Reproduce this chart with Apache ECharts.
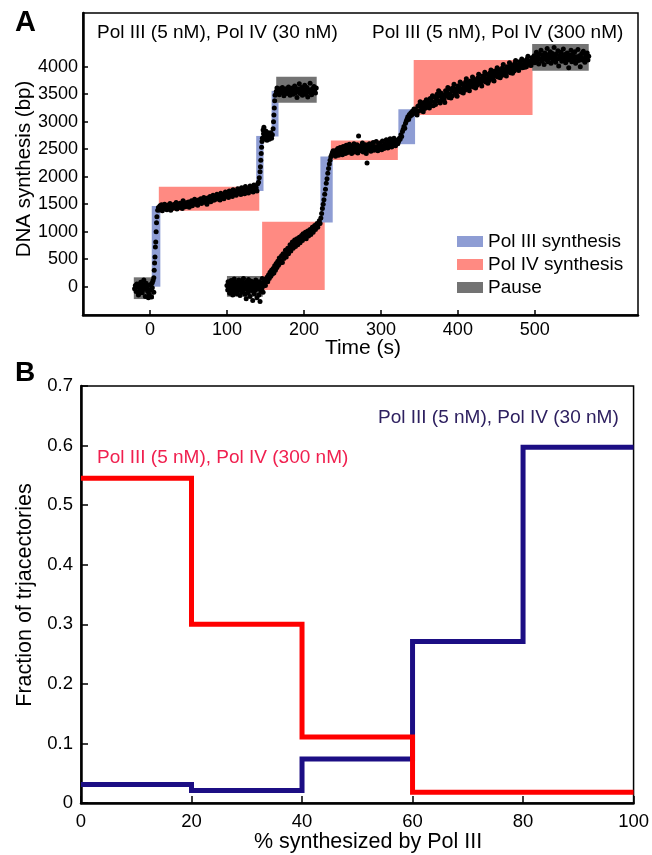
<!DOCTYPE html>
<html><head><meta charset="utf-8">
<script src="https://cdn.jsdelivr.net/npm/echarts@6/dist/echarts.min.js"></script>
<style>html,body{margin:0;padding:0;background:#fff}#c{width:652px;height:855px}</style>
</head><body><div id="c"></div>
<script>
// ---------- Panel A data ----------
const xTicksA = [0, 100, 200, 300, 400, 500];
const yTicksA = [0, 500, 1000, 1500, 2000, 2500, 3000, 3500, 4000];
// rectangles: [tStart, tEnd, bpLow, bpHigh]
const pol4Rects = [[11.5,142,1380,1818],[145.7,227,-60,1182],[235,322,2304,2655],[342.6,497,3122,4120]];
const pol3Rects = [[2.3,13.5,0,1467],[138,147.5,1740,2740],[158,167,2730,3560],[221.4,237.4,1165,2365],[322.7,344.4,2590,3225]];
const pauseRects = [[-21,5,-225,170],[164,216.6,3345,3818],[100,146.5,-182,195],[496.5,570,3927,4413]];

// trajectory: Pol III (5 nM), Pol IV (30 nM)
const traj30 = [
[-20,-40],[-19,20],[-18,-90],[-17,50],[-16,-10],[-15,-150],[-14,30],[-13,-60],[-12,80],[-11,-20],[-10,-110],[-9,40],[-8,-50],[-7,10],[-6,-180],[-5,60],[-4,-30],[-3,-90],[-2,20],[-1,-140],[0,-60],[1,40],[2,-190],[3,-20],[4,110],[5,-100],[-14,-120],[-8,120],[-2,-200],[3,70],
[5,160],[5.5,300],[6,430],[6.5,540],[7,720],[7.5,810],[8,1000],[8.5,1160],[9,1270],[10,1390],
[11,1440],[12,1395],[13,1470],[14,1420],[15,1490],[16,1380],[17,1455],[18,1410],[19,1500],[20,1445],[22,1400],[23,1480],[24,1435],[26,1510],[27,1390],[28,1460],[30,1425],[31,1495],[32,1450],[34,1530],[35,1410],[36,1470],[38,1440],[39,1515],[40,1475],[42,1420],[43,1560],[44,1490],[46,1455],[47,1525],[48,1480],[50,1540],[51,1445],[52,1505],[54,1560],[55,1470],[56,1520],[58,1590],[59,1500],[60,1545],[62,1480],[63,1575],[64,1530],[66,1600],[67,1510],[68,1560],[70,1620],[71,1535],[72,1580],[74,1500],[75,1610],[76,1565],[78,1640],[79,1545],[80,1600],[82,1660],[83,1570],[84,1625],[86,1590],[87,1680],[88,1610],[90,1650],[91,1575],[92,1700],[94,1630],[95,1670],[96,1600],[98,1720],[99,1645],[100,1690],[102,1620],[103,1740],[104,1665],[106,1710],[107,1640],[108,1760],[110,1690],[111,1730],[112,1660],[114,1780],[115,1700],[116,1745],[118,1675],[119,1800],[120,1720],[122,1760],[123,1690],[124,1820],[126,1740],[127,1775],[128,1705],[130,1830],[131,1750],[132,1790],[134,1720],[135,1850],[136,1765],[138,1800],[139,1740],[140,1870],
[141,1900],[142,1980],[143,2090],[143.5,2180],[144,2300],[144.5,2420],[145,2535],[145.5,2640],
[146,2700],[147,2850],[147.5,2780],[148,2900],[148.5,2720],[149,2800],[149.5,2760],[150,2680],[150.5,2830],[151,2740],[151.5,2790],[152,2660],[152.5,2760],[153,2710],[153.5,2800],[154,2740],[155,2680],[155.5,2770],[156,2720],[157,2800],[158,2700],[159,2760],
[160,2870],[160.5,3000],[161,3120],[161.5,3250],[162,3380],[162.5,3480],
[164,3550],[165,3610],[166,3520],[167,3580],[168,3490],[169,3600],[170,3560],[171,3530],[172,3620],[173,3570],[174,3470],[175,3590],[176,3540],[177,3600],[178,3510],[179,3570],[180,3630],[181,3550],[182,3480],[183,3590],[184,3540],[185,3610],[186,3500],[187,3560],[188,3650],[189,3520],[190,3580],[191,3440],[192,3600],[193,3550],[194,3690],[195,3510],[196,3570],[197,3620],[198,3480],[199,3590],[200,3540],[201,3660],[202,3500],[203,3560],[204,3620],[205,3450],[206,3580],[207,3530],[208,3700],[209,3560],[210,3490],[211,3600],[212,3540],[213,3640],[214,3580],[215,3520],[216,3610]
];
// trajectory: Pol III (5 nM), Pol IV (300 nM)
const traj300 = [
[100,20],[101,-60],[101.5,90],[102,-10],[103,50],[103.5,-120],[104,30],[105,-40],[105.5,110],[106,-80],[107,10],[107.5,-150],[108,70],[109,-20],[109.5,140],[110,-90],[111,40],[111.5,-30],[112,80],[113,-130],[113.5,0],[114,60],[115,-70],[115.5,120],[116,-10],[117,-160],[117.5,50],[118,-40],[119,100],[119.5,-100],[120,20],[121,-60],[121.5,150],[122,-20],[123,70],[123.5,-140],[124,10],[125,-220],[125.5,90],[126,-50],[127,30],[127.5,-110],[128,130],[129,-30],[129.5,60],[130,-180],[131,0],[131.5,100],[132,-70],[133,40],[133.5,-250],[134,80],[135,-20],[135.5,-130],[136,50],[137,-60],[137.5,120],[138,-10],[139,-200],[139.5,70],[140,-40],[141,30],[141.5,-150],[142,90],[143,-270],[143.5,10],[144,-80],[145,60],[145.5,-30],[146,150],[147,-100],[148,20],
[148,60],[149,130],[150,20],[151,110],[152,170],[153,90],[154,210],[155,150],[156,260],[157,190],[158,300],[159,230],[160,330],[161,250],[162,380],[163,300],[164,420],[165,350],[166,460],[167,390],[168,520],[169,430],[170,470],[171,560],[172,440],[173,600],[174,510],[175,580],[176,660],[177,540],[178,630],[179,700],[180,600],[181,690],[182,760],[183,650],[184,740],[185,810],[186,700],[187,770],[188,850],[189,730],[190,800],[191,870],[192,760],[193,840],[194,900],[195,800],[196,870],[197,930],[198,840],[199,960],[200,880],[201,920],[202,990],[203,870],[204,950],[205,1010],[206,920],[207,980],[208,1040],[209,950],[210,1020],[211,1080],[212,990],[213,1060],[214,1110],[215,1040],[216,1100],[217,1150],[218,1080],[219,1140],[220,1200],[221,1150],
[222,1250],[223,1330],[224,1420],[225,1500],[226,1580],[227,1680],[228,1770],[229,1880],[230,1960],[231,2060],[232,2150],[233,2230],[234,2300],[235,2360],[236,2400],[237,2440],[238,2470],
[239,2400],[240,2450],[241,2370],[242,2480],[243,2420],[244,2510],[245,2390],[246,2460],[247,2530],[248,2430],[249,2490],[250,2400],[251,2550],[252,2460],[253,2510],[254,2420],[255,2570],[256,2480],[257,2440],[258,2530],[259,2590],[260,2460],[261,2510],[262,2420],[263,2560],[264,2480],[265,2600],[266,2450],[267,2530],[268,2490],[269,2580],[270,2430],[271,2740],[272,2520],[273,2470],[274,2560],[275,2500],[276,2610],[277,2450],[278,2540],[279,2490],[280,2580],[281,2420],[282,2250],[283,2530],[284,2480],[285,2600],[286,2510],[287,2460],[288,2570],[289,2520],[290,2620],[291,2480],[292,2550],[293,2500],[294,2640],[295,2530],[296,2470],[297,2580],[298,2520],[299,2610],[300,2550],[301,2490],[302,2650],[303,2560],[304,2510],[305,2600],[306,2540],[307,2670],[308,2570],[309,2520],[310,2620],[311,2560],[312,2690],[313,2590],[314,2540],[315,2640],[316,2580],[317,2700],[318,2610],[319,2560],[320,2660],[321,2620],[322,2600],
[323,2640],[324,2700],[325,2680],[326,2760],[327,2730],[328,2820],[329,2860],[330,2910],[331,2880],[332,2970],[333,3010],[334,3050],[335,3090],[336,3040],[337,3130],[338,3100],[339,3160],[340,3120],[341,3190],[342,3150],[343,3230],[344,3180],
[345,3220],[346,3150],[347,3120],[348,3280],[349,3190],[350,3300],[351,3360],[352,3210],[353,3330],[354,3260],[355,3180],[356,3350],[357,3240],[358,3310],[359,3400],[360,3380],[361,3260],[362,3340],[363,3250],[364,3420],[365,3300],[366,3370],[367,3470],[368,3290],[369,3450],[370,3360],[371,3310],[372,3420],[373,3500],[374,3380],[375,3560],[376,3460],[377,3340],[378,3520],[379,3390],[380,3430],[381,3490],[382,3400],[383,3350],[384,3560],[385,3470],[386,3530],[387,3620],[388,3440],[389,3600],[390,3500],[391,3430],[392,3560],[393,3470],[394,3620],[395,3680],[396,3540],[397,3590],[398,3510],[399,3460],[400,3650],[401,3560],[402,3620],[403,3720],[404,3540],[405,3690],[406,3600],[407,3520],[408,3650],[409,3570],[410,3720],[411,3780],[412,3620],[413,3680],[414,3600],[415,3560],[416,3740],[417,3650],[418,3710],[419,3810],[420,3630],[421,3770],[422,3680],[423,3610],[424,3740],[425,3660],[426,3800],[427,3860],[428,3720],[429,3770],[430,3690],[431,3650],[432,3830],[433,3750],[434,3800],[435,3900],[436,3720],[437,3860],[438,3780],[439,3700],[440,3830],[441,3750],[442,3890],[443,3940],[444,3810],[445,3860],[446,3780],[447,3740],[448,3920],[449,3840],[450,3890],[451,3980],[452,3810],[453,3950],[454,3870],[455,3800],[456,3910],[457,3840],[458,3980],[459,4040],[460,3900],[461,3940],[462,3860],[463,3830],[464,4000],[465,3920],[466,3970],[467,4070],[468,3890],[469,4030],[470,3950],[471,3880],[472,4000],[473,3920],[474,4060],[475,4110],[476,3980],[477,4030],[478,3950],[479,3930],[480,4090],[481,4000],[482,4050],[483,4140],[484,3980],[485,4110],[486,4030],[487,3990],[488,4070],[489,4000],[490,4140],[491,4190],[492,4060],[493,4100],[494,4030],[495,4020],[496,4160],[497,4080],
[498,4120],[499,4200],[500,4070],[501,4180],[502,4260],[503,4110],[504,4190],[505,4050],[506,4230],[507,4140],[508,4300],[509,4100],[510,4210],[511,4160],[512,4040],[513,4250],[514,4130],[515,4190],[516,4330],[517,4090],[518,4220],[519,4150],[520,4270],[521,4060],[522,4180],[523,4240],[524,4120],[525,4350],[526,4170],[527,4080],[528,4230],[529,4140],[530,4290],[531,4010],[532,4200],[533,4150],[534,4260],[535,4100],[536,4190],[537,4320],[538,4130],[539,4220],[540,4070],[541,4180],[542,4250],[543,4120],[544,3980],[545,4210],[546,4160],[547,4300],[548,4090],[549,4190],[550,4240],[551,4130],[552,4270],[553,4060],[554,4180],[555,4150],[556,4310],[557,4110],[558,4200],[559,4000],[560,4170],[561,4240],[562,4120],[563,4280],[564,4150],[565,4080],[566,4210],[567,4160],[568,4250],[569,4120],[570,4190]
];

// ---------- Panel B data ----------
const binEdges = [0, 20, 40, 60, 80, 100];
const frac300 = [0.545, 0.300, 0.111, 0.018, 0.018];
const frac30  = [0.031, 0.021, 0.074, 0.271, 0.597];

// ---------- build ----------
const FF = "'Liberation Sans', Arial, Helvetica, sans-serif";
function stepData(vals){
  const d = vals.map((v,i)=>[binEdges[i], v]);
  d.push([binEdges[binEdges.length-1], vals[vals.length-1]]);
  return d;
}
function rectRender(params, api){
  const p0 = api.coord([api.value(0), api.value(3)]);
  const p1 = api.coord([api.value(1), api.value(2)]);
  return {type:'rect', shape:{x:p0[0], y:p0[1], width:p1[0]-p0[0], height:p1[1]-p0[1]}, style:{fill: api.visual('color')}};
}
const plain = v => String(v);
const chart = echarts.init(document.getElementById('c'), null, {renderer:'canvas'});
const axLine = {show:true, onZero:false, lineStyle:{color:'#000', width:2.5}};
chart.setOption({
  animation:false,
  backgroundColor:'#fff',
  textStyle:{fontFamily:FF},
  grid:[
    {left:83, top:13, width:555, height:302, show:true, borderColor:'#000', borderWidth:1.5},
    {left:81, top:386, width:556, height:417, show:true, borderColor:'#000', borderWidth:1.5}
  ],
  legend:{
    data:['Pol III synthesis','Pol IV synthesis','Pause'],
    orient:'vertical', left:457, top:232, padding:0, itemWidth:26, itemHeight:11, itemGap:4,
    icon:'rect', textStyle:{fontFamily:FF, fontSize:19, color:'#000'}, selectedMode:false
  },
  xAxis:[
    {gridIndex:0, type:'value', min:-87, max:634, axisLine:axLine, splitLine:{show:false},
      axisTick:{show:true, inside:true, length:5, customValues:xTicksA, lineStyle:{color:'#000', width:1.5}},
      axisLabel:{customValues:xTicksA, formatter:plain, fontSize:18, color:'#000', margin:6, fontFamily:FF}},
    {gridIndex:1, type:'value', min:0, max:100, interval:20, axisLine:axLine, splitLine:{show:false},
      axisTick:{show:true, inside:true, length:7, lineStyle:{color:'#000', width:1.5}},
      axisLabel:{fontSize:18.5, color:'#000', margin:9, fontFamily:FF}}
  ],
  yAxis:[
    {gridIndex:0, type:'value', min:-515, max:4975, axisLine:axLine, splitLine:{show:false},
      axisTick:{show:true, inside:true, length:5, customValues:yTicksA, lineStyle:{color:'#000', width:1.5}},
      axisLabel:{customValues:yTicksA, formatter:plain, fontSize:18, color:'#000', margin:5, fontFamily:FF}},
    {gridIndex:1, type:'value', min:0, max:0.7, interval:0.1, axisLine:axLine, splitLine:{show:false},
      axisTick:{show:true, inside:true, length:7, lineStyle:{color:'#000', width:1.5}},
      axisLabel:{fontSize:18.5, color:'#000', margin:8, fontFamily:FF}}
  ],
  series:[
    {name:'Pol IV synthesis', type:'custom', xAxisIndex:0, yAxisIndex:0, renderItem:rectRender, encode:{x:[0,1], y:[2,3]}, itemStyle:{color:'#ff8a82'}, data:pol4Rects, z:1},
    {name:'Pol III synthesis', type:'custom', xAxisIndex:0, yAxisIndex:0, renderItem:rectRender, encode:{x:[0,1], y:[2,3]}, itemStyle:{color:'#8e9dd4'}, data:pol3Rects, z:2},
    {name:'Pause', type:'custom', xAxisIndex:0, yAxisIndex:0, renderItem:rectRender, encode:{x:[0,1], y:[2,3]}, itemStyle:{color:'#737373'}, data:pauseRects, z:2},
    {name:'traj30', type:'scatter', xAxisIndex:0, yAxisIndex:0, symbolSize:5, itemStyle:{color:'#000', opacity:1}, data:traj30, z:5},
    {name:'traj300', type:'scatter', xAxisIndex:0, yAxisIndex:0, symbolSize:5, itemStyle:{color:'#000', opacity:1}, data:traj300, z:5},
    {name:'30 nM', type:'line', xAxisIndex:1, yAxisIndex:1, step:'end', showSymbol:false, lineStyle:{color:'#1c0e84', width:5, join:'miter'}, data:stepData(frac30), z:3},
    {name:'300 nM', type:'line', xAxisIndex:1, yAxisIndex:1, step:'end', showSymbol:false, lineStyle:{color:'#ff0000', width:5, join:'miter'}, data:stepData(frac300), z:4}
  ],
  graphic:[
    {type:'text', left:15, top:8, style:{text:'A', font:"bold 29px "+FF, fill:'#000'}},
    {type:'text', left:15, top:359, style:{text:'B', font:"bold 28px "+FF, fill:'#000'}},
    {type:'text', x:97, y:33, style:{text:'Pol III (5 nM), Pol IV (30 nM)', font:"19px "+FF, fill:'#000', textVerticalAlign:'middle'}},
    {type:'text', x:372, y:33, style:{text:'Pol III (5 nM), Pol IV (300 nM)', font:"19px "+FF, fill:'#000', textVerticalAlign:'middle'}},
    {type:'text', x:363, y:348, style:{text:'Time (s)', font:"21px "+FF, fill:'#000', textAlign:'center', textVerticalAlign:'middle'}},
    {type:'text', x:24, y:169, rotation:Math.PI/2, style:{text:'DNA synthesis (bp)', font:"20.5px "+FF, fill:'#000', textAlign:'center', textVerticalAlign:'middle'}},
    {type:'text', x:97, y:458, style:{text:'Pol III (5 nM), Pol IV (300 nM)', font:"19px "+FF, fill:'#f0204f', textVerticalAlign:'middle'}},
    {type:'text', x:378, y:418, style:{text:'Pol III (5 nM), Pol IV (30 nM)', font:"19px "+FF, fill:'#2e2060', textVerticalAlign:'middle'}},
    {type:'text', x:368, y:842, style:{text:'% synthesized by Pol III', font:"21.5px "+FF, fill:'#000', textAlign:'center', textVerticalAlign:'middle'}},
    {type:'text', x:25, y:595, rotation:Math.PI/2, style:{text:'Fraction of trjacectories', font:"21.5px "+FF, fill:'#000', textAlign:'center', textVerticalAlign:'middle'}}
  ]
});
</script></body></html>
